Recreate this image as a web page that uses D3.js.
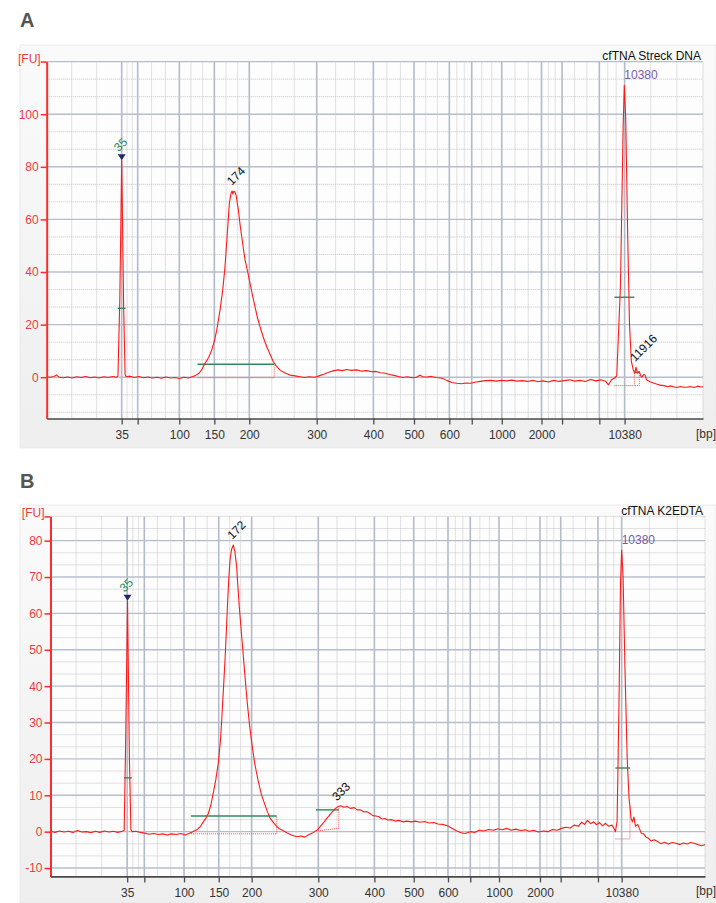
<!DOCTYPE html>
<html>
<head>
<meta charset="utf-8">
<script src="https://cdn.jsdelivr.net/npm/d3@7"></script>
<style>
  body { margin: 0; background: #fff; }
  svg { display: block; font-family: "Liberation Sans", Arial, sans-serif; }
</style>
</head>
<body>
<svg id="chart" width="716" height="903"></svg>
<script>
// migration time window of the run, in seconds
var timeDomain = [40, 127.5];

// ladder fragments (bp) and where they fall on the time axis in each run
var ladderBp = [35, 50, 100, 150, 200, 300, 400, 500, 600, 700, 1000, 2000, 3000, 7000, 10380];
var labeledBp = [35, 100, 150, 200, 300, 400, 500, 600, 1000, 2000, 10380];
var ladderTimeA = [50.0, 52.13, 57.68, 62.35, 67.01, 76.0, 83.55, 88.97, 93.68, 96.67, 100.67, 105.97, 108.71, 113.68, 117.05];
var ladderTimeB = [50.25, 52.54, 57.85, 62.49, 66.89, 75.80, 83.30, 88.56, 93.14, 96.12, 99.96, 105.44, 108.21, 113.19, 116.36];

// y ticks
var yTicksA = [0, 20, 40, 60, 80, 100];
var yTicksB = [-10, 0, 10, 20, 30, 40, 50, 60, 70, 80];

// electropherogram traces: [time s, FU]
var traceA = [
  [40.0,0.2],[40.5,0.0],[41.0,0.3],[41.3,0.9],[41.6,0.1],[42.2,-0.2],[42.8,0.1],[43.4,-0.3],[44.0,0.2],[44.6,-0.1],
  [45.2,0.3],[45.8,-0.2],[46.4,0.1],[47.0,-0.3],[47.6,0.2],[48.2,-0.1],[48.8,0.3],[49.3,0.0],
  [49.5,0.4],[49.75,30],[50.0,82.5],[50.25,28],[50.45,1.0],[50.6,0.2],
  [51.1,0.4],[51.7,-0.1],[52.3,0.3],[52.9,-0.2],[53.5,0.1],[54.1,-0.3],[54.7,0.0],[55.3,-0.4],[55.9,0.1],[56.5,-0.3],
  [57.1,-0.1],[57.7,-0.5],[58.3,0.0],[58.9,-0.3],[59.4,0.2],
  [59.8,0.6],[60.3,1.5],[60.7,3.0],[61.11,5.3],[61.6,7.6],[62.0,10.3],[62.4,14.3],[62.67,17.9],[63.11,25.5],[63.47,33.2],
  [63.77,42.0],[64.08,54.7],[64.35,66.1],[64.57,69.9],[64.72,70.8],[64.82,69.6],[64.95,70.7],[65.1,70.4],[65.24,69.3],
  [65.55,63.6],[65.78,58.0],[66.0,53.4],[66.44,44.6],[66.8,40.0],[67.11,35.7],[67.45,31.0],[67.77,26.8],[68.1,22.6],
  [68.44,19.2],[68.9,15.0],[69.33,11.6],[69.8,8.6],[70.21,5.9],[70.6,4.3],[71.11,2.7],[71.7,1.7],[72.44,0.8],[73.1,0.5],
  [73.77,0.2],[74.4,-0.1],[75.0,0.2],[75.77,0.0],[76.4,0.6],[77.0,1.2],[77.6,1.9],[78.2,2.4],[78.84,2.8],[79.4,2.5],
  [80.0,2.9],[80.65,2.6],[81.3,2.8],[82.0,2.3],[82.7,2.5],[83.3,2.1],[83.9,2.2],[84.5,1.7],[85.1,1.5],[85.7,1.0],
  [86.3,0.7],[86.9,0.3],[87.5,-0.1],[88.1,0.2],[88.7,-0.2],[89.3,0.0],[89.8,0.8],[90.1,0.2],[90.7,0.1],[91.3,0.3],
  [91.9,-0.1],[92.5,-0.3],[92.9,-0.6],[93.4,-1.3],[94.0,-2.0],[94.65,-2.3],[95.3,-2.5],[95.9,-2.2],[96.5,-2.3],[97.1,-1.9],
  [97.8,-1.6],[98.5,-1.3],[99.2,-1.2],[99.9,-1.5],[100.6,-1.2],[101.3,-1.4],[102.0,-1.1],[102.7,-1.5],[103.4,-1.3],
  [104.1,-1.6],[104.8,-1.2],[105.5,-1.7],[106.2,-1.4],[106.9,-1.8],[107.6,-1.2],[108.3,-1.6],[109.0,-1.3],[109.7,-1.0],
  [110.4,-1.5],[111.1,-1.2],[111.8,-1.6],[112.5,-0.9],[113.2,-1.4],[113.9,-1.0],[114.5,-1.5],[114.9,-2.9],[115.3,-1.0],
  [115.67,-0.4],[116.0,0.5],[116.5,35],[116.85,95],[117.01,111],[117.2,98],[117.45,55],[117.7,20],[117.95,6],
  [118.21,2.7],[118.4,1.5],[118.57,3.8],[118.75,1.5],[119.01,2.1],[119.2,0.6],[119.33,0.0],[119.6,1.0],[119.77,0.8],
  [120.0,-1.1],[120.44,-1.7],[120.9,-2.2],[121.3,-2.6],[121.77,-3.0],[122.3,-3.2],[122.8,-3.6],[123.2,-3.3],[123.55,-3.6],
  [124.0,-3.9],[124.5,-3.5],[124.9,-3.8],[125.33,-3.8],[125.8,-3.5],[126.3,-3.9],[126.8,-3.4],[127.2,-3.7],[127.5,-3.6]
];

var traceB = [
  [40.0,0.1],[40.6,-0.2],[41.2,0.2],[41.8,-0.1],[42.4,0.1],[43.0,-0.2],[43.6,0.3],[44.2,-0.1],[44.8,0.0],[45.4,-0.3],
  [46.0,0.1],[46.6,-0.2],[47.2,0.2],[47.8,-0.1],[48.4,0.1],[49.0,-0.2],[49.6,0.1],[49.85,0.3],
  [50.05,25],[50.3,63.5],[50.55,20],[50.75,0.6],[50.9,0.0],
  [51.4,0.1],[52.0,-0.2],[52.6,-0.4],[53.2,-0.7],[53.8,-0.5],[54.4,-0.8],[55.0,-0.6],[55.6,-0.9],[56.2,-0.6],[56.8,-0.8],
  [57.4,-0.5],[58.0,-0.9],[58.5,-0.5],[58.88,-0.2],
  [59.2,0.2],[59.55,0.5],[60.0,1.3],[60.43,2.7],[60.8,3.8],[61.1,5.0],[61.45,7.4],[61.76,10.6],[62.1,14.3],[62.43,18.8],
  [62.7,24.5],[62.89,30.7],[63.1,38.5],[63.33,47.2],[63.52,55.5],[63.69,63.7],[63.85,70.0],[64.0,74.7],[64.2,77.5],
  [64.44,78.8],[64.65,77.0],[64.89,72.8],[65.05,67.5],[65.24,61.8],[65.6,52.7],[65.95,44.0],[66.27,36.2],[66.6,29.5],
  [66.94,23.9],[67.3,18.8],[67.74,14.2],[68.2,10.2],[68.68,7.3],[69.0,5.5],[69.34,3.8],[69.8,2.5],[70.19,1.6],[70.6,0.8],
  [71.08,0.3],[71.6,-0.3],[72.2,-0.9],[72.93,-1.4],[73.5,-1.2],[74.0,-1.5],[74.45,-0.9],[75.0,-0.4],[75.68,0.5],[76.1,1.5],
  [76.59,2.7],[77.0,3.8],[77.5,5.0],[78.0,6.2],[78.42,6.9],[78.8,7.1],[79.2,6.7],[79.64,6.9],[80.1,6.4],[80.6,6.6],
  [81.0,6.0],[81.47,6.0],[81.9,5.4],[82.3,5.5],[82.7,5.0],[83.1,4.4],[83.5,4.3],[83.92,4.1],[84.3,3.5],[84.7,3.6],
  [85.12,3.2],[85.6,3.3],[86.1,2.9],[86.6,3.1],[87.1,2.7],[87.6,2.9],[88.2,2.7],[88.8,2.9],[89.4,2.6],[90.0,2.8],
  [90.6,2.4],[91.24,2.5],[91.8,2.1],[92.4,2.0],[93.07,1.6],[93.6,1.0],[94.2,0.3],[94.88,-0.3],[95.4,-0.5],[96.12,0.0],
  [96.7,-0.2],[97.3,0.4],[97.9,0.2],[98.57,0.6],[99.2,0.4],[99.8,0.8],[100.4,0.5],[101.0,0.9],[101.6,0.4],[102.2,0.7],
  [102.8,0.3],[103.44,0.5],[104.0,0.1],[104.6,0.4],[105.2,-0.1],[105.9,0.2],[106.5,0.0],[107.1,0.6],[107.7,0.4],
  [108.33,0.9],[108.9,1.2],[109.5,1.0],[110.0,1.8],[110.6,1.5],[111.0,2.6],[111.39,2.0],[111.8,3.1],[112.2,2.2],
  [112.61,2.7],[113.0,1.9],[113.4,2.5],[113.8,1.6],[114.2,2.3],[114.6,1.5],[115.05,1.8],[115.3,1.0],[115.53,0.0],
  [115.75,3],[116.0,35],[116.2,68],[116.36,77.4],[116.55,70],[116.8,45],[117.1,20],[117.35,9],[117.47,6.9],[117.6,3.8],
  [117.79,2.7],[118.0,4.0],[118.2,1.5],[118.5,2.0],[118.72,0.9],[119.0,-0.5],[119.3,-0.6],[119.6,-1.5],[119.93,-1.8],
  [120.3,-2.6],[120.7,-2.2],[121.15,-2.7],[121.6,-3.3],[122.1,-2.9],[122.6,-3.4],[123.1,-3.0],[123.6,-3.2],[124.1,-3.5],
  [124.6,-3.1],[125.1,-3.4],[125.6,-3.0],[126.03,-3.2],[126.5,-3.5],[127.0,-3.9],[127.5,-3.6]
];

// called peaks
var peaksA = [
  {t: 50.0, fu: 82.5, label: "35", type: "ladder"},
  {t: 64.8, fu: 70.8, label: "174", type: "sample"},
  {t: 117.01, fu: 111, label: "10380", type: "marker"},
  {t: 118.57, fu: 3.8, label: "11916", type: "sample"}
];
var peaksB = [
  {t: 50.3, fu: 63.5, label: "35", type: "ladder"},
  {t: 64.44, fu: 78.8, label: "172", type: "sample"},
  {t: 78.42, fu: 6.9, label: "333", type: "sample"},
  {t: 116.36, fu: 77.4, label: "10380", type: "marker"}
];

// peak integration windows: green = height marker, b0/b1 = baseline, top = end line
var regionsA = [
  {t0: 49.48, t1: 50.52, green: 26.2},
  {t0: 60.11, t1: 70.33, green: 4.9, b0: -0.2, b1: -0.2, top: 4.9},
  {t0: 115.68, t1: 118.35, green: 30.4, b0: -3.2, b1: -3.2, top: 2.7},
  {t0: 118.44, t1: 119.01, green: 1.9, b0: -3.2, b1: -3.2, top: 2.1}
];
var regionsB = [
  {t0: 49.83, t1: 50.86, green: 14.8},
  {t0: 58.77, t1: 70.24, green: 4.3, b0: -0.6, b1: -0.6, top: 4.3},
  {t0: 75.49, t1: 78.54, green: 6.0, b0: 0.2, b1: 0.9, top: 6.9},
  {t0: 115.53, t1: 117.47, green: 17.5, b0: -2.0, b1: -2.0, top: 6.9}
];

var svg = d3.select("#chart");

var defs = svg.append("defs");
var grad = defs.append("linearGradient").attr("id", "panelGrad")
    .attr("x1", 0).attr("y1", 0).attr("x2", 0).attr("y2", 1);
grad.append("stop").attr("offset", "0%").attr("stop-color", "#fafafa");
grad.append("stop").attr("offset", "100%").attr("stop-color", "#eeeeee");

function drawPanel(p){
  var g = svg.append("g");

  // panel letter + background
  g.append("text").attr("x", 20).attr("y", p.letterY)
    .attr("font-size", 20).attr("font-weight", "bold").attr("fill", "#555")
    .text(p.letter);
  g.append("rect").attr("x", 20).attr("y", p.bgTop)
    .attr("width", 696).attr("height", p.bgBottom - p.bgTop)
    .attr("fill", "url(#panelGrad)").attr("stroke", "#e6e6e6").attr("stroke-width", 0.8);

  var x = d3.scaleLinear().domain(timeDomain).range([p.left, p.right]);
  var y = d3.scaleLinear().domain(p.yDomain).range([p.bottom, p.top]);

  g.append("rect").attr("x", p.left).attr("y", p.top)
    .attr("width", p.right - p.left).attr("height", p.bottom - p.top)
    .attr("fill", "#fdfdfd");

  // grid: majors at ladder peaks / labelled FU, dotted minors at thirds
  var bounds = [timeDomain[0]].concat(p.ladder, [timeDomain[1]]);
  var vMinor = [];
  for (var i = 0; i < bounds.length - 1; i++){
    var a = bounds[i], b = bounds[i+1];
    vMinor.push(a + (b - a) / 3, a + 2 * (b - a) / 3);
  }
  vMinor.push(timeDomain[1]);

  var third = p.yStep / 3;
  var hMinor = [], hMajor = [];
  for (var k = Math.ceil(p.yDomain[0] / third - 1e-3); k <= Math.floor(p.yDomain[1] / third + 1e-3); k++){
    if (k % 3 === 0) hMajor.push(k * third); else hMinor.push(k * third);
  }

  var grid = g.append("g");
  grid.selectAll(".vminor").data(vMinor).enter().append("line")
    .attr("x1", function(d){ return x(d); }).attr("x2", function(d){ return x(d); })
    .attr("y1", p.top).attr("y2", p.bottom)
    .attr("stroke", "#c4c4c4").attr("stroke-dasharray", "1,1");
  grid.selectAll(".hminor").data(hMinor).enter().append("line")
    .attr("x1", p.left).attr("x2", p.right)
    .attr("y1", function(d){ return y(d); }).attr("y2", function(d){ return y(d); })
    .attr("stroke", "#c4c4c4").attr("stroke-dasharray", "1,1");
  grid.selectAll(".hmajor").data(hMajor).enter().append("line")
    .attr("x1", p.left).attr("x2", p.right)
    .attr("y1", function(d){ return y(d); }).attr("y2", function(d){ return y(d); })
    .attr("stroke", "#b6bece").attr("stroke-width", 1.4);
  grid.selectAll(".vmajor").data(p.ladder).enter().append("line")
    .attr("x1", function(d){ return x(d); }).attr("x2", function(d){ return x(d); })
    .attr("y1", p.top).attr("y2", p.bottom)
    .attr("stroke", "#b3bbcb").attr("stroke-width", 1.6);

  // integration windows
  var reg = g.append("g");
  p.regions.forEach(function(r){
    if (r.b0 !== undefined){
      reg.append("path")
        .attr("d", "M" + x(r.t0) + "," + y(r.b0) + "L" + x(r.t1) + "," + y(r.b1) + "L" + x(r.t1) + "," + y(r.top))
        .attr("fill", "none").attr("stroke", "#ff5050").attr("stroke-width", 1)
        .attr("stroke-dasharray", "1,1");
    }
    reg.append("line")
      .attr("x1", x(r.t0)).attr("x2", x(r.t1))
      .attr("y1", y(r.green)).attr("y2", y(r.green))
      .attr("stroke", "#2e8b5e").attr("stroke-width", 1.4);
  });

  // trace
  var line = d3.line().x(function(d){ return x(d[0]); }).y(function(d){ return y(d[1]); });
  g.append("path").datum(p.trace).attr("d", line)
    .attr("fill", "none").attr("stroke", "#ff1a1a").attr("stroke-width", 1.1)
    .attr("stroke-linejoin", "round");

  // y axis (red)
  var yAxis = d3.axisLeft(y).tickValues(p.yTicks.concat([p.yDomain[1]]))
    .tickFormat(function(d){ return p.yTicks.indexOf(d) >= 0 ? d : ""; })
    .tickSize(6).tickSizeOuter(0).tickPadding(2);
  var ya = g.append("g").attr("transform", "translate(" + p.left + ",0)").call(yAxis);
  ya.select(".domain").attr("stroke", "#ff2a2a").attr("stroke-width", 2);
  ya.selectAll(".tick line").attr("stroke", "#ff2a2a").attr("stroke-width", 1.5);
  ya.selectAll(".tick text").attr("fill", "#ee3a3f").attr("font-size", 12)
    .attr("font-family", "'Liberation Sans', Arial, sans-serif");
  g.append("text").attr("x", p.left - 6).attr("y", p.top + 1)
    .attr("text-anchor", "end").attr("font-size", 12).attr("fill", "#ee3a3f")
    .text("[FU]");

  // x axis in bp at the ladder positions
  var xAxis = d3.axisBottom(x).tickValues(p.ladder)
    .tickFormat(function(d, i){ return labeledBp.indexOf(ladderBp[i]) >= 0 ? ladderBp[i] : ""; })
    .tickSize(6).tickSizeOuter(0).tickPadding(6);
  var xa = g.append("g").attr("transform", "translate(0," + p.bottom + ")").call(xAxis);
  xa.select(".domain").attr("stroke", "#4a4a4a").attr("stroke-width", 1.6);
  xa.selectAll(".tick line").attr("stroke", "#4a4a4a").attr("stroke-width", 1.3);
  xa.selectAll(".tick text").attr("fill", "#333").attr("font-size", 12)
    .attr("font-family", "'Liberation Sans', Arial, sans-serif");
  g.append("text").attr("x", 716).attr("y", p.bottom + 19)
    .attr("text-anchor", "end").attr("font-size", 12).attr("fill", "#333")
    .text("[bp]");

  // sample name
  g.append("text").attr("x", p.right - 2).attr("y", p.top - 1.5)
    .attr("text-anchor", "end").attr("font-size", 12).attr("fill", "#111")
    .text(p.title);

  // peak labels
  p.peaks.forEach(function(pk){
    var px = x(pk.t), py = y(pk.fu);
    if (pk.type === "ladder"){
      g.append("path")
        .attr("d", "M" + (px - 4) + "," + (py - 6) + "L" + (px + 4) + "," + (py - 6) + "L" + px + "," + py + "Z")
        .attr("fill", "#1f2a6b");
      g.append("text").attr("transform", "translate(" + (px - 3) + "," + (py - 8) + ") rotate(-45)")
        .attr("font-size", 12).attr("fill", "#2e8b57").text(pk.label);
    } else if (pk.type === "marker"){
      g.append("text").attr("x", px).attr("y", py - 6)
        .attr("font-size", 12).attr("fill", "#7b5aa6").text(pk.label);
    } else {
      g.append("text").attr("transform", "translate(" + (px - 1) + "," + (py - 5) + ") rotate(-45)")
        .attr("font-size", 12).attr("fill", "#111").text(pk.label);
    }
  });
}

drawPanel({
  letter: "A", letterY: 26.5, bgTop: 45, bgBottom: 448,
  left: 46.7, right: 703, top: 61.6, bottom: 418.5,
  yDomain: [-15.7, 120], yStep: 20, yTicks: yTicksA,
  ladder: ladderTimeA, trace: traceA, peaks: peaksA, regions: regionsA,
  title: "cfTNA Streck DNA"
});

drawPanel({
  letter: "B", letterY: 488, bgTop: 505, bgBottom: 903,
  left: 50.5, right: 705, top: 516.4, bottom: 876.4,
  yDomain: [-12.3, 86.67], yStep: 10, yTicks: yTicksB,
  ladder: ladderTimeB, trace: traceB, peaks: peaksB, regions: regionsB,
  title: "cfTNA K2EDTA"
});
</script>
</body>
</html>
